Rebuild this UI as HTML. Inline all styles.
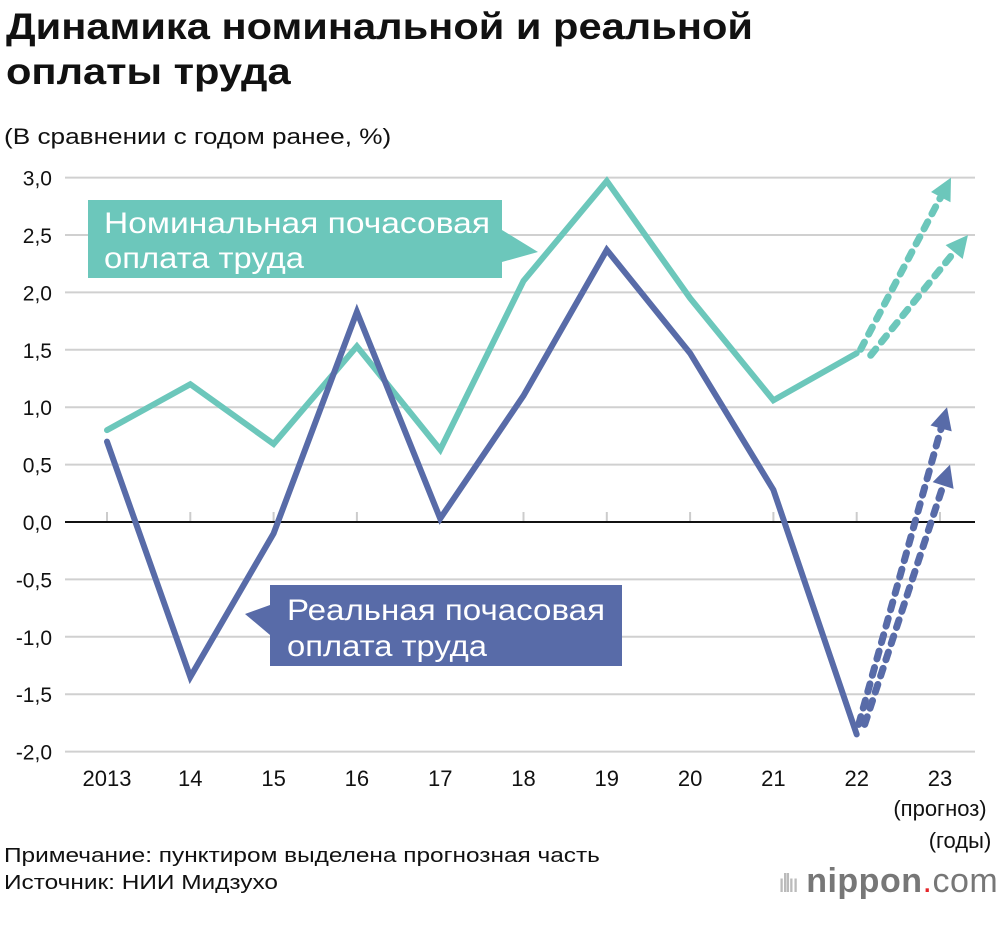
<!DOCTYPE html>
<html><head><meta charset="utf-8"><style>
body{margin:0;background:#fff;font-family:"Liberation Sans","DejaVu Sans",sans-serif}
#wrap{position:relative;width:1000px;height:928px;overflow:hidden}
.t{position:absolute;color:#111;transform-origin:0 0;white-space:nowrap}
</style></head><body><div id="wrap">
<div class="t" style="left:6px;top:4px;font-size:37px;font-weight:bold;line-height:45px;transform:scaleX(1.125)">Динамика номинальной и реальной<br>оплаты труда</div>
<div class="t" style="left:4px;top:124px;font-size:22px;transform:scaleX(1.19)">(В сравнении с годом ранее, %)</div>
<svg id="svg" width="1000" height="928" style="position:absolute;left:0;top:0"></svg>
<div class="t" style="left:4px;top:843px;font-size:20px;line-height:27px;transform:scaleX(1.22)">Примечание: пунктиром выделена прогнозная часть<br>Источник: НИИ Мидзухо</div>
<div class="t" style="left:778px;top:862px;font-size:34px;color:#777;letter-spacing:0.5px"><span style="color:#bbb;font-size:26px;letter-spacing:-3px">ıllıı</span> <b>nippon</b><span style="color:#e5252a">.</span>com</div>
</div>
<script>
const categories=["2013","14","15","16","17","18","19","20","21","22","23"];
const nominal=[0.8,1.2,0.68,1.53,0.63,2.1,2.97,1.95,1.06,1.47];
const real=[0.7,-1.35,-0.1,1.83,0.03,1.1,2.37,1.47,0.28,-1.85];
const nominalForecast=[3.0,2.5];
const realForecast=[1.0,0.5];
const yTicks=[3.0,2.5,2.0,1.5,1.0,0.5,0.0,-0.5,-1.0,-1.5,-2.0];
const yTickLabels=["3,0","2,5","2,0","1,5","1,0","0,5","0,0","-0,5","-1,0","-1,5","-2,0"];
const NS="http://www.w3.org/2000/svg";
const svg=document.getElementById('svg');
const x=i=>107+i*83.3;
const y=v=>522-v*114.8;
function mk(tag,attrs,parent){const e=document.createElementNS(NS,tag);for(const k in attrs)e.setAttribute(k,attrs[k]);(parent||svg).appendChild(e);return e;}
yTicks.forEach((v,i)=>{
  if(v!==0){const g=mk('line',{x1:65,x2:975,y1:y(v),y2:y(v),stroke:'#d0d0d0','stroke-width':2});
  
  }
  const t=mk('text',{x:52,y:y(v)+8,'text-anchor':'end','font-size':21,fill:'#111'});t.textContent=yTickLabels[i];
  
  
});
categories.forEach((c,i)=>{
  const tk=mk('line',{x1:x(i),x2:x(i),y1:y(0)-10,y2:y(0),stroke:'#ccc','stroke-width':2});
  
  
  const t=mk('text',{x:x(i),y:786,'text-anchor':'middle','font-size':22,fill:'#111'});t.textContent=c;
  
  
});
const ax=mk('line',{x1:65,x2:975,y1:y(0),y2:y(0),stroke:'#111','stroke-width':2});


const f1=mk('text',{x:940,y:816,'text-anchor':'middle','font-size':22,fill:'#111'});f1.textContent='(прогноз)';


const f2=mk('text',{x:960,y:848,'text-anchor':'middle','font-size':22,fill:'#111'});f2.textContent='(годы)';


function series(vals,color,name){
  const p=mk('polyline',{points:vals.map((v,i)=>x(i)+','+y(v)).join(' '),fill:'none',stroke:color,'stroke-width':6,'stroke-linejoin':'miter','stroke-linecap':'round'});
  
  
}
function arrow(x0,y0,x1,y1,color,name){
  const a=Math.atan2(y1-y0,x1-x0),L=22,W=11;
  const bx=x1-L*Math.cos(a),by=y1-L*Math.sin(a);
  const l=mk('line',{x1:x0,y1:y0,x2:bx,y2:by,stroke:color,'stroke-width':7,'stroke-dasharray':'8 9','stroke-linecap':'round'});
  
  
  const px=-Math.sin(a)*W,py=Math.cos(a)*W;
  const h=mk('polygon',{points:`${x1},${y1} ${bx+px},${by+py} ${bx-px},${by-py}`,fill:color});
  
  
}
const TEAL='#6cc7bb',BLUE='#586ba8';
series(nominal,TEAL,'nominal-wage-line');
series(real,BLUE,'real-wage-line');
const n9=nominal[9],r9=real[9];
arrow(x(9)+4,y(n9)-4,x(10)+11,y(nominalForecast[0]),TEAL,'nominal-forecast-high');
arrow(x(9)+14,y(n9)+2,x(10)+28,y(nominalForecast[1]),TEAL,'nominal-forecast-low');
arrow(x(9)+2,y(r9)-10,x(10)+7,y(realForecast[0]),BLUE,'real-forecast-high');
arrow(x(9)+8,y(r9)-10,x(10)+10,y(realForecast[1]),BLUE,'real-forecast-low');
const c1=mk('polygon',{points:'88,200 502,200 502,230 538,252 502,262 502,278 88,278',fill:TEAL});


const t1=mk('text',{x:104,y:233,'font-size':30,fill:'#fff',textLength:386,lengthAdjust:'spacingAndGlyphs'});t1.textContent='Номинальная почасовая';


const t1b=mk('text',{x:104,y:268,'font-size':30,fill:'#fff',textLength:200,lengthAdjust:'spacingAndGlyphs'});t1b.textContent='оплата труда';


const c2=mk('polygon',{points:'270,585 622,585 622,666 270,666 270,635 245,614 270,605',fill:BLUE});


const t2=mk('text',{x:287,y:620,'font-size':30,fill:'#fff',textLength:318,lengthAdjust:'spacingAndGlyphs'});t2.textContent='Реальная почасовая';


const t2b=mk('text',{x:287,y:656,'font-size':30,fill:'#fff',textLength:200,lengthAdjust:'spacingAndGlyphs'});t2b.textContent='оплата труда';


</script></body></html>
